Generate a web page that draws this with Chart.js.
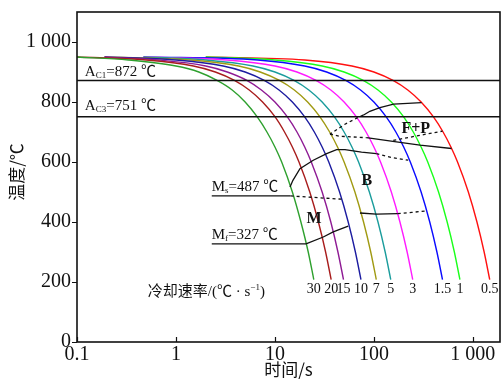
<!DOCTYPE html>
<html>
<head>
<meta charset="utf-8">
<script src="https://cdn.jsdelivr.net/npm/chart.js@4.4.1/dist/chart.umd.min.js"></script>
<style>
  html, body { margin: 0; padding: 0; background: #fff; }
  #wrap { width: 502px; height: 380px; }
</style>
</head>
<body>
<div id="wrap"><canvas id="cct" width="502" height="380"></canvas></div>
<script>
// Temperature levels (°C) at which each cooling curve is sampled
const tempLevels = [950, 940, 920, 900, 872, 840, 800, 751, 700, 650, 600, 500, 400, 300, 208];

// Time (s) at each temperature level, one array per cooling rate
const time30  = [0.1, 0.33, 1.0, 1.7, 2.6, 3.7, 5.0, 6.6, 8.3, 10, 11.7, 15, 18.3, 21.7, 24.7];
const time20  = [0.1, 0.5, 1.5, 2.5, 3.9, 5.5, 7.5, 10, 12.5, 15, 17.5, 22.5, 27.5, 32.5, 37];
const time15  = [0.19, 0.67, 2.0, 3.3, 5.2, 7.3, 10, 13.3, 16.7, 20, 23.3, 30, 36.7, 43.3, 49.3];
const time10  = [0.19, 1.0, 3.0, 5.0, 7.8, 11, 15, 19.9, 25, 30, 35, 45, 55, 65, 74];
const time7   = [0.19, 1.4, 4.3, 7.1, 11.1, 15.7, 21.4, 28.4, 35.7, 42.9, 50, 64.3, 78.6, 92.9, 105.7];
const time5   = [0.47, 2.0, 6.0, 10, 15.6, 22, 30, 39.8, 50, 60, 70, 90, 110, 130, 148];
const time3   = [0.47, 3.3, 10, 16.7, 26, 36.7, 50, 66.3, 83.3, 100, 116.7, 150, 183.3, 216.7, 246.7];
const time1_5 = [0.47, 6.7, 20, 33.3, 52, 73.3, 100, 132.7, 166.7, 200, 233.3, 300, 366.7, 433.3, 493.3];
const time1   = [2.0, 10, 30, 50, 78, 110, 150, 199, 250, 300, 350, 450, 550, 650, 740];
const time0_5 = [2.0, 20, 60, 100, 156, 220, 300, 398, 500, 600, 700, 900, 1100, 1300, 1480];

const rateLabels = ['30', '20', '15', '10', '7', '5', '3', '1.5', '1', '0.5'];
const curveTimes = [time30, time20, time15, time10, time7, time5, time3, time1_5, time1, time0_5];
const curveColors = ['#2ea02e', '#a81c1c', '#8e1a94', '#1c1ca0', '#a09a12', '#1a9c9c',
                     '#ff1aff', '#0a0aff', '#1aff1a', '#ff1010'];

// Critical temperatures (°C)
const ac1Temp = 872;
const ac3Temp = 751;
const msTemp = 487;
const mfTemp = 327;

// Axis ranges and tick values
const timeMin = 0.1;
const timeMax = 1880;
const tempMax = 1100;
const xTickValues = [0.1, 1, 10, 100, 1000];
const yTickValues = [0, 200, 400, 600, 800, 1000];

// Transformation boundaries as [time s, temperature °C]
const ferriteStartSolid  = [[303, 798], [158, 793], [115, 781], [91, 769], [78, 756]];
const ferriteStartDashed = [[78, 756], [67, 746], [51, 726], [36, 693]];
const pearliteEndDashed  = [[36, 693], [45, 686], [84, 681]];
const pearliteEndSolid   = [[84, 681], [169, 667], [292, 656], [609, 645]];
const pearliteMidDashed  = [[157, 672], [292, 689], [494, 703]];
const bainiteStartSolid  = [[14.2, 517], [15.2, 539], [17.9, 578], [24.4, 606], [33.3, 628],
                            [42, 641], [51, 641], [75, 633], [106, 628]];
const bainiteStartDashed = [[106, 628], [151, 615], [222, 606]];
const msDotted           = [[14.4, msTemp], [47, 476]];
const msLead             = [[2.3, msTemp], [14.4, msTemp]];
const mfLead             = [[2.3, mfTemp], [20.6, mfTemp]];
const mfLine             = [[20.6, mfTemp], [30.8, 350], [38.8, 367], [55, 386]];
const bainiteEndSolid    = [[72.3, 430], [106, 426], [174, 428]];
const bainiteEndDashed   = [[174, 428], [242, 432], [341, 437]];

const serif = "'Liberation Serif', 'Noto Sans CJK SC', serif";
const cjk = "'Noto Sans CJK SC', 'Liberation Serif', sans-serif";

function pts(arr) { return arr.map(p => ({ x: p[0], y: p[1] })); }

function boundary(arr, dashed, width) {
  return {
    data: pts(arr), borderColor: '#111', borderWidth: width || 1.3,
    borderDash: dashed ? [3, 3] : [], pointRadius: 0, tension: 0, order: 0
  };
}

const datasets = [];
datasets.push(boundary([[timeMin, ac1Temp], [timeMax, ac1Temp]], false, 1.5));
datasets.push(boundary([[timeMin, ac3Temp], [timeMax, ac3Temp]], false, 1.5));
[ferriteStartDashed, pearliteEndDashed, pearliteMidDashed, bainiteStartDashed, msDotted, bainiteEndDashed]
  .forEach(a => datasets.push(boundary(a, true)));
[ferriteStartSolid, pearliteEndSolid, bainiteStartSolid, msLead, mfLead, mfLine, bainiteEndSolid]
  .forEach(a => datasets.push(boundary(a, false)));

curveTimes.forEach((times, i) => {
  datasets.push({
    label: rateLabels[i],
    data: times.map((t, k) => ({ x: t, y: tempLevels[k] })),
    borderColor: curveColors[i], borderWidth: 1.4,
    pointRadius: 0, cubicInterpolationMode: 'monotone', order: 1
  });
});

function fmt(v) {
  if (v >= 1000) return String(v).replace(/(\d)(?=(\d{3})+$)/g, '$1 ');
  return String(v);
}

// Draw a run of text pieces, each with its own size and baseline shift
function drawRich(ctx, x, y, parts, weight) {
  let cx = x;
  parts.forEach(([text, size, shift]) => {
    ctx.font = (weight || 'normal') + ' ' + size + 'px ' + serif;
    ctx.fillText(text, cx, y + shift);
    cx += ctx.measureText(text).width;
  });
}

const overlay = {
  id: 'overlay',
  afterDraw(chart) {
    const { ctx, chartArea: a, scales: { x, y } } = chart;
    ctx.save();
    ctx.strokeStyle = '#111';
    ctx.fillStyle = '#111';

    // frame
    ctx.lineWidth = 1.6;
    ctx.strokeRect(a.left, a.top, a.right - a.left, a.bottom - a.top);

    // tick marks
    ctx.lineWidth = 1.2;
    ctx.beginPath();
    yTickValues.forEach(v => {
      const py = Math.round(y.getPixelForValue(v)) + 0.5;
      ctx.moveTo(a.left - 5, py); ctx.lineTo(a.left, py);
    });
    xTickValues.forEach(v => {
      const px = Math.round(x.getPixelForValue(v)) + 0.5;
      ctx.moveTo(px, a.bottom); ctx.lineTo(px, a.bottom - 5);
    });
    ctx.stroke();

    // critical temperature labels
    ctx.textAlign = 'left';
    ctx.textBaseline = 'alphabetic';
    const labelX = x.getPixelForValue(0.12);
    drawRich(ctx, labelX, y.getPixelForValue(886), [['A', 15, 0], ['C1', 9, 1.5], ['=872 ℃', 15, 0]]);
    drawRich(ctx, labelX, y.getPixelForValue(772), [['A', 15, 0], ['C3', 9, 1.5], ['=751 ℃', 15, 0]]);
    const mX = x.getPixelForValue(2.3);
    drawRich(ctx, mX, y.getPixelForValue(502), [['M', 15, 0], ['s', 9, 1.5], ['=487 ℃', 15, 0]]);
    drawRich(ctx, mX, y.getPixelForValue(342), [['M', 15, 0], ['f', 9, 1.5], ['=327 ℃', 15, 0]]);

    // phase region labels
    ctx.textAlign = 'center';
    ctx.textBaseline = 'middle';
    ctx.font = 'bold 16px ' + serif;
    ctx.fillText('F+P', x.getPixelForValue(265), y.getPixelForValue(712));
    ctx.fillText('B', x.getPixelForValue(85), y.getPixelForValue(536));
    ctx.fillText('M', x.getPixelForValue(24.8), y.getPixelForValue(409));

    // cooling-rate labels at the foot of each curve
    ctx.font = '14px ' + serif;
    const labelY = y.getPixelForValue(174);
    curveTimes.forEach((times, i) => {
      ctx.fillText(rateLabels[i], x.getPixelForValue(times[times.length - 1]), labelY);
    });
    ctx.textAlign = 'left';
    ctx.textBaseline = 'alphabetic';
    drawRich(ctx, x.getPixelForValue(0.52), labelY + 6,
      [['冷却速率/(℃ · s', 15, 0], ['−1', 9, -6], [')', 15, 0]]);

    // axis titles
    ctx.font = '17px ' + cjk;
    ctx.textAlign = 'center';
    ctx.textBaseline = 'middle';
    ctx.fillText('时间/s', (a.left + a.right) / 2, 370);
    ctx.save();
    ctx.translate(17, 172);
    ctx.rotate(-Math.PI / 2);
    ctx.fillText('温度/℃', 0, 0);
    ctx.restore();

    ctx.restore();
  }
};

new Chart(document.getElementById('cct'), {
  type: 'line',
  data: { datasets },
  options: {
    responsive: false,
    devicePixelRatio: 1,
    animation: false,
    layout: { padding: { left: 0, top: 12, right: 2, bottom: 0 } },
    plugins: { legend: { display: false }, tooltip: { enabled: false } },
    scales: {
      x: {
        type: 'logarithmic', min: timeMin, max: timeMax,
        grid: { display: false, drawTicks: false }, border: { display: false },
        afterBuildTicks: s => { s.ticks = xTickValues.map(v => ({ value: v })); },
        afterFit: s => { s.height = 38; s.paddingLeft = 0; s.paddingRight = 0; },
        ticks: {
          autoSkip: false, maxRotation: 0, padding: 1, color: '#111',
          font: { family: serif, size: 20 }, callback: v => fmt(v)
        }
      },
      y: {
        type: 'linear', min: 0, max: tempMax,
        grid: { display: false, drawTicks: false }, border: { display: false },
        afterBuildTicks: s => { s.ticks = yTickValues.map(v => ({ value: v })); },
        afterFit: s => { s.width = 77; s.paddingTop = 0; s.paddingBottom = 0; },
        ticks: {
          padding: 6, color: '#111',
          font: { family: serif, size: 20 }, callback: v => fmt(v)
        }
      }
    }
  },
  plugins: [overlay]
});
</script>
</body>
</html>
